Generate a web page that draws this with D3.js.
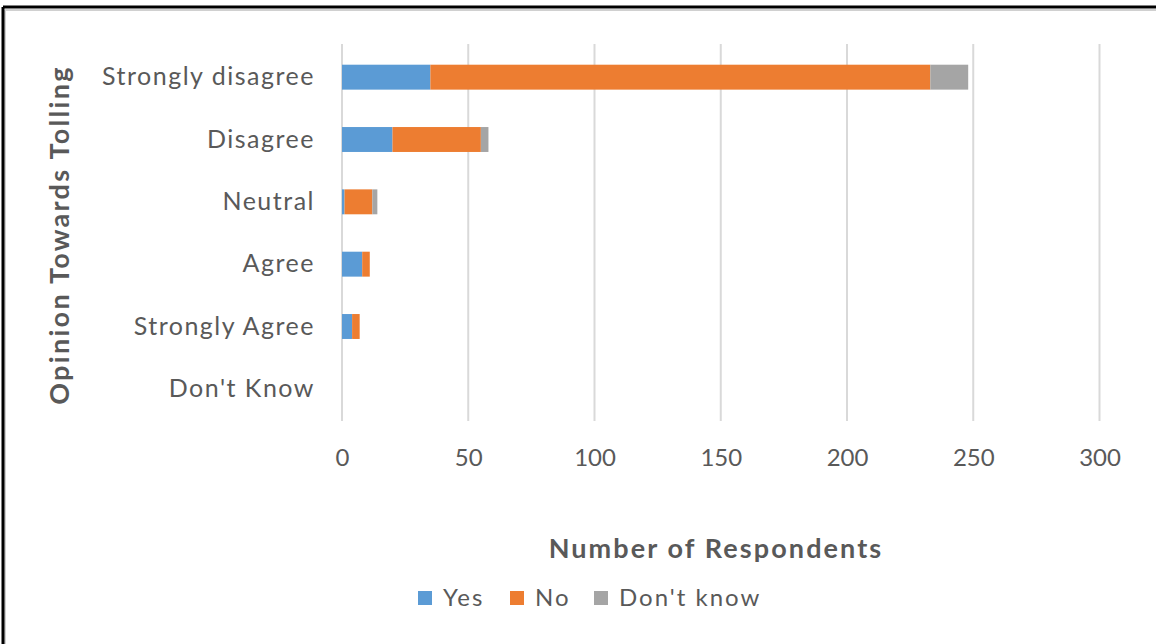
<!DOCTYPE html>
<html>
<head>
<meta charset="utf-8">
<script src="https://cdn.jsdelivr.net/npm/d3@7"></script>
<style>
  html, body { margin: 0; padding: 0; background: #fff; }
  svg { display: block; }
  text { font-family: Lato, "Open Sans", sans-serif; fill: #595959; }
</style>
</head>
<body>
<svg id="chart" width="1156" height="644"></svg>
<script>
// Opinion categories (top to bottom)
const categories = ["Strongly disagree", "Disagree", "Neutral", "Agree", "Strongly Agree", "Don't Know"];
// Series: respondents answering Yes / No / Don't know
const seriesNames = ["Yes", "No", "Don't know"];
const yesValues = [35, 20, 1, 8, 4, 0];
const noValues = [198, 35, 11, 3, 3, 0];
const dontKnowValues = [15, 3, 2, 0, 0, 0];
const xTicks = [0, 50, 100, 150, 200, 250, 300];
const colors = ["#5b9bd5", "#ed7d31", "#a5a5a5"];

const svg = d3.select("#chart");

// Outer frame (top and left edges visible, with a soft inner shadow)
svg.append("path").attr("d", "M5,10 H1156 M5,10 V644")
  .attr("fill", "none").attr("stroke", "#d0d0d0").attr("stroke-width", 2);
svg.append("path").attr("d", "M3,7 H1156 M3,7 V644")
  .attr("fill", "none").attr("stroke", "#000").attr("stroke-width", 3);

const x = d3.scaleLinear().domain([0, 300]).range([342, 1099.5]);
const y = d3.scaleBand().domain(categories).range([46, 420]).paddingInner(0.6).paddingOuter(0.3);

// Vertical gridlines
svg.append("g").selectAll("line").data(xTicks).join("line")
  .attr("x1", d => x(d)).attr("x2", d => x(d))
  .attr("y1", 44).attr("y2", 421)
  .attr("stroke", "#d9d9d9").attr("stroke-width", 2);

// Stacked bars
const rows = categories.map((c, i) => ({ cat: c, "Yes": yesValues[i], "No": noValues[i], "Don't know": dontKnowValues[i] }));
const stacked = d3.stack().keys(seriesNames)(rows);
svg.append("g").selectAll("g").data(stacked).join("g")
  .attr("fill", (d, i) => colors[i])
  .selectAll("rect").data(d => d).join("rect")
  .attr("x", d => x(d[0]))
  .attr("width", d => x(d[1]) - x(d[0]))
  .attr("y", d => y(d.data.cat))
  .attr("height", y.bandwidth());

// X axis tick labels
const xAxis = d3.axisBottom(x).tickValues(xTicks).tickSize(0).tickPadding(0);
const gx = svg.append("g").attr("transform", "translate(0,449)").call(xAxis);
gx.select(".domain").remove();
gx.selectAll("text").attr("font-size", 24).attr("dy", "0.71em")
  .style("font-family", "Lato, sans-serif").attr("fill", "#595959");

// Y axis category labels
const yAxis = d3.axisLeft(y).tickSize(0).tickPadding(0);
const gy = svg.append("g").attr("transform", "translate(315,0)").call(yAxis);
gy.select(".domain").remove();
gy.selectAll("text").attr("font-size", 25).style("letter-spacing", "1.5px")
  .style("font-family", "Lato, sans-serif").attr("fill", "#595959");

// Axis titles
svg.append("text").attr("x", 716).attr("y", 558).attr("text-anchor", "middle")
  .attr("font-size", 27).attr("font-weight", "bold").style("letter-spacing", "2.1px")
  .text("Number of Respondents");
svg.append("text").attr("transform", "translate(69,235) rotate(-90)")
  .attr("text-anchor", "middle").attr("font-size", 27).attr("font-weight", "bold")
  .style("letter-spacing", "2.3px")
  .text("Opinion Towards Tolling");

// Legend
const legendX = [418, 510, 594];
const legend = svg.append("g").selectAll("g").data(seriesNames).join("g")
  .attr("transform", (d, i) => `translate(${legendX[i]},591)`);
legend.append("rect").attr("width", 14).attr("height", 14).attr("fill", (d, i) => colors[i]);
legend.append("text").attr("x", 25).attr("y", 7).attr("dy", "0.35em")
  .attr("font-size", 24).style("letter-spacing", "2px").text(d => d);
</script>
</body>
</html>
